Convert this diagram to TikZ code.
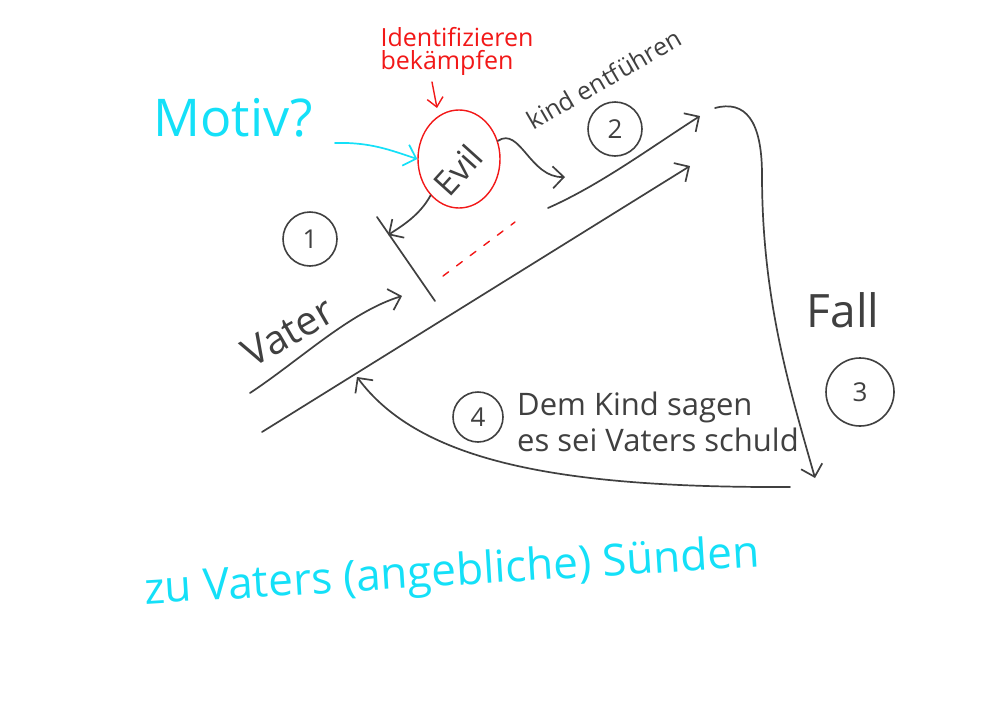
\documentclass[tikz,border=0pt]{standalone}
\usepackage{fontspec}
\setmainfont{Open Sans}
\usetikzlibrary{arrows.meta,shapes.geometric}
\definecolor{inkc}{HTML}{404040}
\definecolor{cyc}{HTML}{14E0F8}
\definecolor{rdc}{HTML}{F21818}
\newcommand\fsz[2]{\fontsize{#1}{#2}\selectfont}
\begin{document}
\begin{tikzpicture}[x=1pt,y=-1pt]
\tikzset{
  inkline/.style={draw=inkc, line width=1.7pt, line cap=round, line join=round},
  arr/.style={inkline, -{Straight Barb[length=11pt,width=22pt]}},
  cyarr/.style={draw=cyc, line width=1.7pt, line cap=round, -{Straight Barb[length=11pt,width=22pt]}},
  redarr/.style={draw=rdc, line width=1.4pt, line cap=round, -{Straight Barb[length=9pt,width=16pt]}},
  numc/.style={circle, draw=inkc, line width=1.6pt, text=inkc, font=\fsz{26}{28}, inner sep=0pt},
  lbl/.style={text=inkc, inner sep=1pt},
}
\useasboundingbox (0,0) rectangle (1000,707);
\fill[white] (0,0) rectangle (1000,707);

% texts
\node[text=cyc, font=\fsz{52}{56}, inner sep=1pt] (motiv) at (233,118) {Motiv?};
\node[text=rdc, font=\fsz{25}{27}, inner sep=1pt] (ident) at (457,37) {Identifizieren};
\node[text=rdc, font=\fsz{25}{27}, inner sep=1pt] (bek) at (447,63) {bekämpfen};
\node[draw=rdc, line width=1.4pt, ellipse, minimum width=82pt, minimum height=98pt, inner sep=0pt] (evil) at (459,159) {};
\node[lbl, rotate=48, font=\fsz{34}{36}] (evillbl) at (458,170) {Evil};
\node[lbl, rotate=30, font=\fsz{25}{27}] (kind) at (604,79) {kind entführen};
\node[lbl, rotate=30, font=\fsz{40}{44}] (vater) at (288,332) {Vater};
\node[lbl, font=\fsz{46}{50}] (fall) at (843,310) {Fall};
\node[lbl, anchor=west, align=left, font=\fsz{31}{36}] (say) at (516,422) {Dem Kind sagen\\es sei Vaters schuld};
\node[text=cyc, rotate=3.5, font=\fsz{44}{48}, inner sep=1pt] (sins) at (452,574) {zu Vaters (angebliche) Sünden};

% numbered circles
\node[numc, minimum size=54pt] (c1) at (310,239) {1};
\node[numc, minimum size=54pt] (c2) at (615,129) {2};
\node[numc, minimum size=68pt] (c3) at (860,392) {3};
\node[numc, minimum size=50pt] (c4) at (478,417) {4};

% coordinates
\coordinate (s0) at (262,432);
\coordinate (s1) at (690,166);
\coordinate (u0) at (548,208);
\coordinate (u1) at (700,116);
\coordinate (f0) at (715,108);
\coordinate (f1) at (815,478);
\coordinate (r0) at (790,487);
\coordinate (r1) at (357,377);
\coordinate (v0) at (250,393);
\coordinate (v1) at (402,296);
\coordinate (b0) at (377,217);
\coordinate (b1) at (435,301);
\coordinate (bt) at (388,235);
\coordinate (w1) at (565,177);
\coordinate (m0) at (335,143);
\coordinate (ra0) at (432,82);
\coordinate (ra1) at (437,108);
\coordinate (d0) at (443,276);
\coordinate (d1) at (515,222);

% connectors
\draw[arr] (s0) -- (s1);
\draw[arr] (u0) .. controls (600,185) and (650,148) .. (u1);
\draw[arr] (f0) .. controls (745,100) and (762,120) .. (762,175) .. controls (762,300) and (790,390) .. (f1);
\draw[arr] (r0) .. controls (560,488) and (420,462) .. (r1);
\draw[arr] (v0) .. controls (300,360) and (350,312) .. (v1);
\draw[inkline] (b0) -- (b1);
\draw[arr] (evil.232) .. controls (420,215) and (402,226) .. (bt);
\draw[arr] (evil.25) .. controls (520,126) and (530,178) .. (w1);
\draw[cyarr] (m0) .. controls (370,142) and (390,150) .. (evil.west);
\draw[redarr] (ra0) -- (ra1);
\draw[draw=rdc, line width=1.4pt, line cap=round, dash pattern=on 7pt off 10pt] (d0) -- (d1);
\end{tikzpicture}
\end{document}
